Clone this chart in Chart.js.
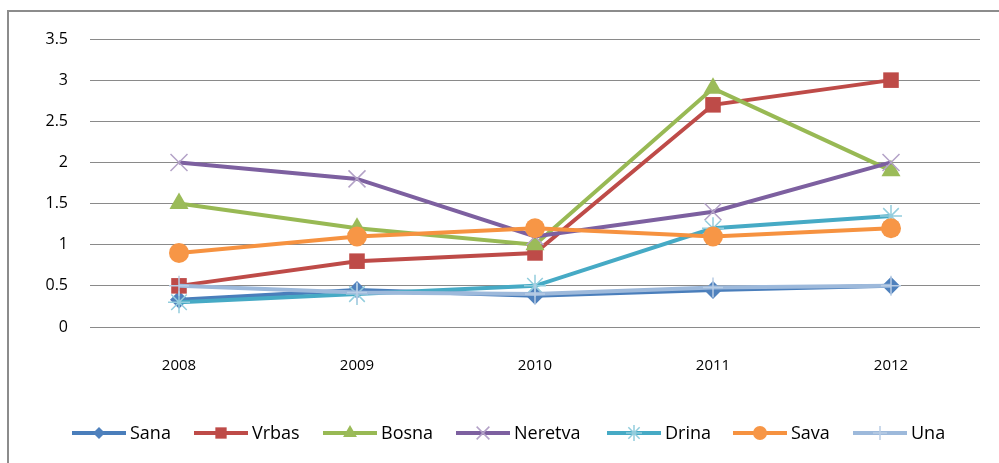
<!DOCTYPE html>
<html><head><meta charset="utf-8">
<script src="https://cdn.jsdelivr.net/npm/chart.js@4/dist/chart.umd.min.js"></script>
<style>
html,body{margin:0;padding:0;background:#fff;}
#wrap{position:relative;width:999px;height:463px;}
#frame{position:absolute;left:7px;top:10px;width:992px;height:453px;border-left:2px solid #8c8c8c;border-top:2px solid #8c8c8c;box-sizing:border-box;}
canvas{position:absolute;left:0;top:0;}
</style></head>
<body><div id="wrap"><div id="frame"></div><canvas id="c" width="999" height="463"></canvas></div>
<script>
const categories = ['2008','2009','2010','2011','2012'];
const seriesNames = ['Sana','Vrbas','Bosna','Neretva','Drina','Sava','Una'];
const sana    = [0.33, 0.45, 0.38, 0.45, 0.50];
const vrbas   = [0.50, 0.80, 0.90, 2.70, 3.00];
const bosna   = [1.50, 1.20, 1.00, 2.90, 1.90];
const neretva = [2.00, 1.80, 1.10, 1.40, 2.00];
const drina   = [0.30, 0.40, 0.50, 1.20, 1.35];
const sava    = [0.90, 1.10, 1.20, 1.10, 1.20];
const una     = [0.50, 0.42, 0.40, 0.48, 0.50];
const yTicks  = [0, 0.5, 1, 1.5, 2, 2.5, 3, 3.5];

const values = [sana, vrbas, bosna, neretva, drina, sava, una];
const lineColors = ['#4A7EBB','#BE4B48','#98B954','#7D60A0','#46AAC5','#F69240','#9DB9DB'];
const markerFill = ['#4F81BD','#BE4B48','#9BBB59','#B3A2C7','#93CDDD','#F79646','#B9CDE5'];
const styles = ['rectRot','rect','triangle','crossRot','star','circle','cross'];
const radii = [9,11,11,12,11,10,10];
const isStroke = s => s.indexOf('cross')===0 || s==='star';

const datasets = seriesNames.map((n,i)=>({
  label:n, data:values[i], borderColor:lineColors[i], backgroundColor:markerFill[i],
  pointStyle:styles[i], pointRadius:radii[i], pointHoverRadius:radii[i],
  pointBorderColor: markerFill[i],
  pointBorderWidth: isStroke(styles[i])?1.5:0,
  borderWidth:4, tension:0, order:6-i
}));

const legendPlugin = {
  id:'customLegend',
  afterDraw(chart){
    const ctx = chart.ctx;
    const xs = [72,194,323,456,607,733,853];
    const y = 433;
    ctx.save();
    ctx.font = '18px "Open Sans", "Liberation Sans", sans-serif';
    ctx.textBaseline = 'middle';
    datasets.forEach((d,i)=>{
      const x = xs[i];
      ctx.strokeStyle = d.borderColor; ctx.lineWidth = 4; ctx.lineCap='butt';
      ctx.beginPath(); ctx.moveTo(x,y); ctx.lineTo(x+54,y); ctx.stroke();
      ctx.fillStyle = d.backgroundColor; ctx.strokeStyle = d.backgroundColor;
      ctx.lineWidth = d.pointBorderWidth || 1;
      Chart.helpers.drawPoint(ctx,{pointStyle:d.pointStyle, radius:Math.round(d.pointRadius*0.72), borderWidth:d.pointBorderWidth, rotation:0}, x+27, y);
      ctx.fillStyle = '#000';
      ctx.fillText(d.label, x+58, y+1);
    });
    ctx.restore();
  }
};

new Chart(document.getElementById('c'),{
  type:'line',
  data:{labels:categories, datasets},
  options:{
    responsive:false, animation:false,
    layout:{padding:{left:0,right:19,top:39,bottom:76}},
    plugins:{legend:{display:false}, tooltip:{enabled:false}},
    scales:{
      x:{
        offset:true,
        grid:{display:false, drawTicks:false},
        border:{display:false},
        ticks:{color:'#000', padding:30, font:{family:'"Open Sans", "Liberation Sans", sans-serif', size:15}},
        afterFit(s){ s.height = 60; }
      },
      y:{
        min:0, max:3.5,
        afterBuildTicks(s){ s.ticks = yTicks.map(v=>({value:v})); },
        grid:{color:'#8a8a8a', lineWidth:1, drawTicks:false},
        border:{display:false},
        ticks:{color:'#000', padding:22, font:{family:'"Open Sans", "Liberation Sans", sans-serif', size:16},
          callback:(v)=>String(v)},
        afterFit(s){ s.width = 90; }
      }
    }
  },
  plugins:[legendPlugin]
});
</script></body></html>
